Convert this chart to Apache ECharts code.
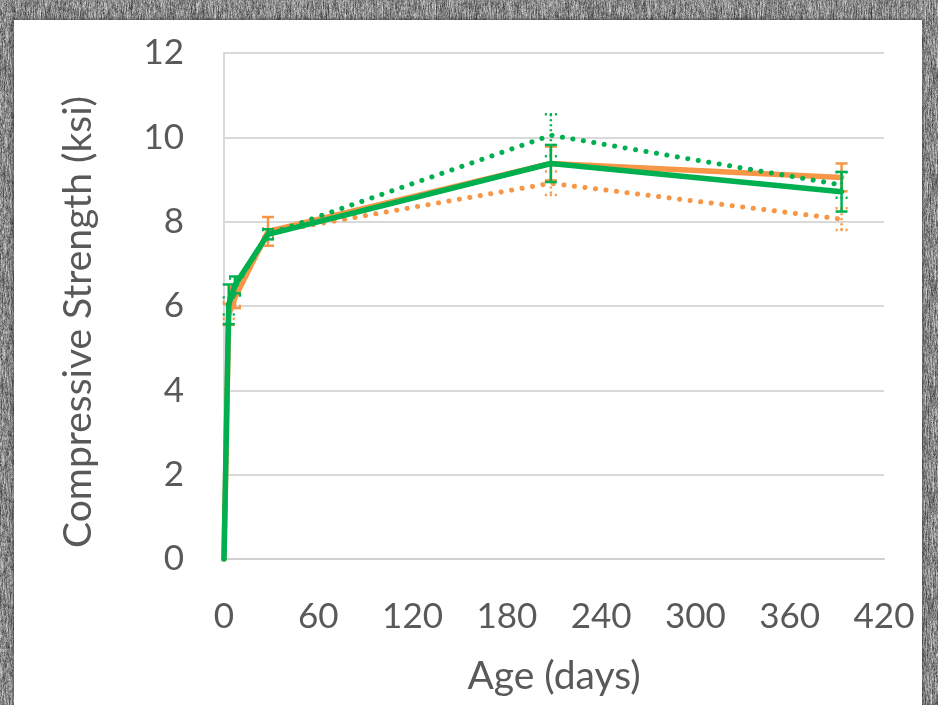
<!DOCTYPE html>
<html>
<head>
<meta charset="utf-8">
<script src="https://cdn.jsdelivr.net/npm/echarts@6/dist/echarts.min.js"></script>
<style>
  html, body { margin:0; padding:0; width:938px; height:705px; overflow:hidden; background:#8a8a8a; }
  #bg { position:absolute; left:0; top:0; }
  #panel { position:absolute; left:14px; top:20px; width:908px; height:685px; background:#ffffff; box-shadow:0 0 3px 1px rgba(40,40,40,0.6); }
  #chart { position:absolute; left:0; top:0; width:938px; height:705px; }
</style>
</head>
<body>
<canvas id="bg" width="938" height="705"></canvas>
<div id="panel"></div>
<div id="chart"></div>
<script>
// ---- data ----
const days = [0, 3, 7, 28, 208, 393];
const xTicks = [0, 60, 120, 180, 240, 300, 360, 420];
const yTicks = [0, 2, 4, 6, 8, 10, 12];

const orangeSolid     = [0, 5.80, 6.20, 7.77, 9.38, 9.05];
const orangeSolidErr  = [0, 0.25, 0.25, 0.34, 0.40, 0.33];
const orangeDotted    = [0, 5.90, 6.20, 7.74, 8.91, 8.06];
const orangeDottedErr = [0, 0.20, 0.20, 0.10, 0.28, 0.26];
const greenSolid      = [0, 6.04, 6.50, 7.70, 9.38, 8.71];
const greenSolidErr   = [0, 0.47, 0.20, 0.12, 0.44, 0.47];
const greenDotted     = [0, 6.00, 6.45, 7.70, 10.05, 8.87];
const greenDottedErr  = [0, 0.20, 0.20, 0.10, 0.50, 0.30];

const ORANGE = '#F79646';
const GREEN = '#00B050';
const FONT = 'Lato';
const TXT = '#595959';

// ---- decorative stone-like frame texture (deterministic) ----
(function () {
  const c = document.getElementById('bg');
  const ctx = c.getContext('2d');
  const W = c.width, H = c.height;
  const img = ctx.createImageData(W, H);
  let s = 12345;
  function rnd() { s = (s * 1103515245 + 12345) & 0x7fffffff; return s / 0x7fffffff; }
  const row = new Float32Array(W);
  for (let y = 0; y < H; y++) {
    for (let x = 0; x < W; x++) {
      // streaky vertical-ish grain
      const prev = y > 0 ? row[x] : 0;
      const v = prev * 0.75 + (rnd() - 0.5) * 60;
      row[x] = v;
      const fine = (rnd() - 0.5) * 40;
      let g = 138 + v + fine;
      g = Math.max(60, Math.min(215, g));
      const k = (y * W + x) * 4;
      img.data[k] = g; img.data[k + 1] = g; img.data[k + 2] = g; img.data[k + 3] = 255;
    }
  }
  ctx.putImageData(img, 0, 0);
})();

function pairs(vals) { return days.map((d, i) => [d, vals[i]]); }
function errData(vals, errs) {
  return days.map((d, i) => [d, vals[i], errs[i]]).filter(r => r[2] > 0);
}
function lineSeries(vals, color, dotted, z) {
  return {
    type: 'line', data: pairs(vals), symbol: 'none', z: z, silent: true,
    lineStyle: dotted
      ? { color: color, width: 5, type: [0.1, 10.5], cap: 'round' }
      : { color: color, width: 5.5, cap: 'round', join: 'round' }
  };
}
function errSeries(vals, errs, color, dotted, z) {
  return {
    type: 'custom', z: z, silent: true, data: errData(vals, errs),
    renderItem: function (params, api) {
      const x = api.value(0), y = api.value(1), e = api.value(2);
      const top = api.coord([x, y + e]);
      const bot = api.coord([x, y - e]);
      const hw = 6;
      const st = dotted
        ? { stroke: color, lineWidth: 2.5, lineDash: [2, 3] }
        : { stroke: color, lineWidth: 2.5 };
      return {
        type: 'group',
        children: [
          { type: 'line', shape: { x1: top[0], y1: top[1], x2: bot[0], y2: bot[1] }, style: st },
          { type: 'line', shape: { x1: top[0] - hw, y1: top[1], x2: top[0] + hw, y2: top[1] }, style: st },
          { type: 'line', shape: { x1: bot[0] - hw, y1: bot[1], x2: bot[0] + hw, y2: bot[1] }, style: st }
        ]
      };
    }
  };
}

const chart = echarts.init(document.getElementById('chart'), null, { renderer: 'canvas' });
chart.setOption({
  animation: false,
  backgroundColor: 'transparent',
  grid: { left: 224, right: 54, top: 53, bottom: 146, containLabel: false },
  xAxis: {
    type: 'value', min: xTicks[0], max: xTicks[xTicks.length - 1], interval: 60,
    name: 'Age (days)', nameLocation: 'middle', nameGap: 98,
    nameTextStyle: { fontFamily: FONT, fontSize: 39, color: TXT },
    axisLine: { show: true, lineStyle: { color: '#d0d0d0', width: 2 } },
    axisTick: { show: false },
    splitLine: { show: false },
    axisLabel: { fontFamily: FONT, fontSize: 35, color: TXT, margin: 40 }
  },
  yAxis: {
    type: 'value', min: yTicks[0], max: yTicks[yTicks.length - 1], interval: 2,
    name: 'Compressive Strength (ksi)', nameLocation: 'middle', nameGap: 126,
    nameTextStyle: { fontFamily: FONT, fontSize: 39, color: TXT, padding: [0, 32, 0, 0] },
    axisLine: { show: true, lineStyle: { color: '#d9d9d9', width: 2 } },
    axisTick: { show: false },
    splitLine: { show: true, lineStyle: { color: '#d9d9d9', width: 2 } },
    axisLabel: { fontFamily: FONT, fontSize: 35, color: TXT, margin: 40 }
  },
  series: [
    lineSeries(orangeDotted, ORANGE, true, 2),
    errSeries(orangeDotted, orangeDottedErr, ORANGE, true, 2),
    lineSeries(orangeSolid, ORANGE, false, 3),
    errSeries(orangeSolid, orangeSolidErr, ORANGE, false, 3),
    lineSeries(greenSolid, GREEN, false, 4),
    errSeries(greenSolid, greenSolidErr, GREEN, false, 4),
    lineSeries(greenDotted, GREEN, true, 5),
    errSeries(greenDotted, greenDottedErr, GREEN, true, 5)
  ]
});
</script>
</body>
</html>
